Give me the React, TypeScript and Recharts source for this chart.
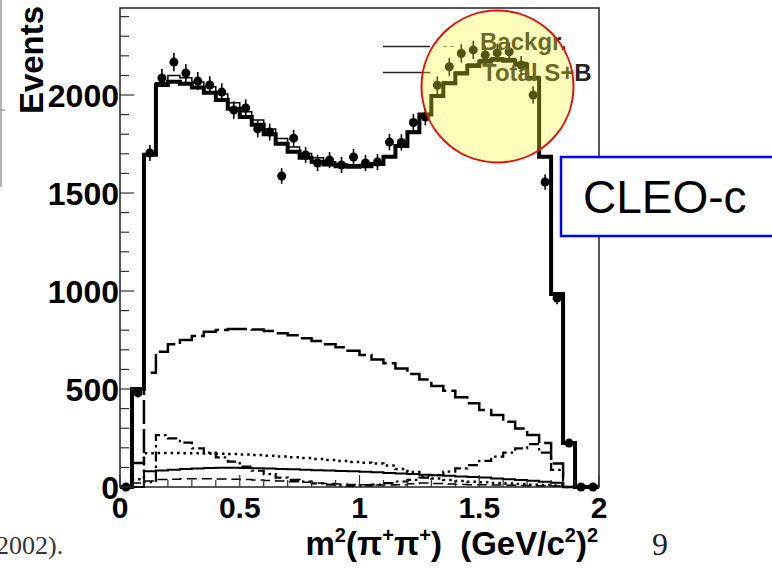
import { ComposedChart, ErrorBar, Line, ReferenceArea, Scatter, XAxis, YAxis } from "recharts";

const binEdges = [
  0, 0.05, 0.1, 0.15, 0.2, 0.25, 0.3, 0.35, 0.4, 0.45, 0.5, 0.55, 0.6, 0.65, 0.7, 0.75, 0.8, 0.85, 0.9, 0.95, 1.0,
  1.05, 1.1, 1.15, 1.2, 1.25, 1.3, 1.35, 1.4, 1.45, 1.5, 1.55, 1.6, 1.65, 1.7, 1.75, 1.8, 1.85, 1.9, 1.95, 2.0,
];
const binCenters = [
  0.025, 0.075, 0.125, 0.175, 0.225, 0.275, 0.325, 0.375, 0.425, 0.475, 0.525, 0.575, 0.625, 0.675, 0.725, 0.775,
  0.825, 0.875, 0.925, 0.975, 1.025, 1.075, 1.125, 1.175, 1.225, 1.275, 1.325, 1.375, 1.425, 1.475, 1.525, 1.575,
  1.625, 1.675, 1.725, 1.775, 1.825, 1.875, 1.925, 1.975,
];

// fitted histograms, one value per bin
const totalSB = [
  0, 500, 1695, 2051, 2068, 2058, 2038, 2012, 1975, 1930, 1888, 1848, 1800, 1752, 1710, 1680, 1660, 1645, 1636, 1634,
  1636, 1648, 1685, 1740, 1810, 1900, 1995, 2060, 2110, 2148, 2170, 2180, 2175, 2155, 2085, 1685, 985, 224, 0, 0,
];
const altFit = [
  0, 505, 1700, 2062, 2100, 2088, 2066, 2042, 2005, 1960, 1915, 1872, 1826, 1778, 1735, 1702, 1680, 1660, 1648, 1644,
  1645, 1655, 1690, 1745, 1815, 1905, 2000, 2066, 2118, 2158, 2180, 2190, 2186, 2166, 2095, 1690, 990, 226, 0, 0,
];
const backgr = [
  0, 122, 583, 690, 728, 750, 770, 792, 801, 806, 806, 804, 796, 784, 774, 759, 745, 728, 713, 695,
  673, 651, 631, 605, 577, 549, 515, 491, 458, 427, 393, 367, 333, 299, 265, 225, 120, 0, 0, 0,
];
const dashDot = [
  0, 0, 25, 265, 248, 226, 197, 175, 151, 129, 104, 83, 66, 48, 36, 27, 19, 12, 8, 6,
  8, 12, 20, 28, 36, 48, 61, 78, 95, 112, 133, 155, 175, 197, 219, 175, 87, 0, 0, 0,
];
const dotted = [
  0, 40, 172, 173, 173, 172, 172, 171, 170, 168, 166, 163, 160, 156, 152, 148, 143, 138, 133, 128,
  124, 120, 110, 92, 76, 58, 44, 36, 31, 27, 24, 21, 18, 15, 12, 10, 8, 0, 0, 0,
];
const smooth = [
  0, 0, 80, 84, 88, 92, 95, 97, 98, 98, 97, 96, 94, 92, 90, 88, 86, 84, 82, 80,
  78, 75, 72, 69, 66, 63, 60, 57, 54, 51, 48, 44, 40, 36, 32, 27, 22, 0, 0, 0,
];
const lowDashed = [
  0, 20, 30, 38, 40, 42, 42, 42, 41, 40, 38, 36, 33, 30, 27, 24, 21, 18, 15, 13,
  11, 10, 10, 12, 16, 20, 18, 15, 13, 12, 11, 10, 9, 8, 7, 6, 5, 0, 0, 0,
];

// measured events per bin
const dataEvents = [
  0, 480, 1704, 2087, 2168, 2112, 2071, 2051, 2015, 1923, 1934, 1827, 1811, 1587, 1780, 1694, 1653, 1668, 1643, 1684,
  1653, 1658, 1760, 1758, 1860, 1888, 2050, 2144, 2212, 2230, 2204, 2215, 2221, 2153, 2000, 1556, 964, 224, 0, 0,
];
const dataErrors = [
  0, 22, 41, 46, 47, 46, 46, 45, 45, 44, 44, 43, 43, 40, 42, 41, 41, 41, 41, 41,
  41, 41, 42, 42, 43, 43, 45, 46, 47, 47, 47, 47, 47, 46, 45, 39, 31, 15, 0, 0,
];

const xTicks = [
  0, 0.1, 0.2, 0.3, 0.4, 0.5, 0.6, 0.7, 0.8, 0.9, 1, 1.1, 1.2, 1.3, 1.4, 1.5, 1.6, 1.7, 1.8, 1.9, 2,
];
const yTicks = [
  0, 100, 200, 300, 400, 500, 600, 700, 800, 900, 1000, 1100, 1200, 1300, 1400, 1500, 1600, 1700, 1800, 1900, 2000,
  2100, 2200, 2300, 2400,
];

const rows = binEdges.map((x, i) => {
  const j = Math.min(i, binCenters.length - 1);
  return {
    x,
    total: totalSB[j],
    alt: altFit[j],
    backgr: backgr[j],
    dashDot: dashDot[j],
    dotted: dotted[j],
    smooth: smooth[j],
    lowDashed: lowDashed[j],
  };
});
const points = binCenters.map((x, i) => ({ x, y: dataEvents[i], err: dataErrors[i] }));

const SANS = "'Liberation Sans', Arial, Helvetica, sans-serif";
const SERIF = "'Liberation Serif', 'Times New Roman', serif";

function YTick({ x, y, payload }: any) {
  const v = payload.value;
  const major = v % 500 === 0;
  return (
    <g>
      <line x1={x} x2={x + (major ? 14 : 9)} y1={y} y2={y} stroke="#333" strokeWidth={1.2} />
      {major && (
        <text x={x - 1} y={y} dy="0.36em" textAnchor="end" fontSize={32} fontWeight="bold" fontFamily={SANS} fill="#000">
          {v}
        </text>
      )}
    </g>
  );
}

function XTick({ x, y, payload }: any) {
  const v = payload.value;
  const major = Math.abs(v * 2 - Math.round(v * 2)) < 1e-6;
  return (
    <g>
      <line x1={x} x2={x} y1={y} y2={y - (major ? 12 : 7)} stroke="#333" strokeWidth={1.2} />
      {major && (
        <text x={x} y={y + 31} textAnchor="middle" fontSize={30} fontWeight="bold" fontFamily={SANS} fill="#000">
          {v}
        </text>
      )}
    </g>
  );
}

const Dot = (p: any) => <circle cx={p.cx} cy={p.cy} r={4.5} fill="#000" />;

export default function App() {
  return (
    <div style={{ position: "absolute", left: 0, top: 0, width: 772, height: 569, background: "#fff", overflow: "hidden" }}>
      <ComposedChart width={772} height={569} data={rows} margin={{ top: 8, right: 173, bottom: 0, left: 0 }}>
        <XAxis
          dataKey="x"
          type="number"
          domain={[0, 2]}
          ticks={xTicks}
          interval={0}
          height={82}
          tickSize={0}
          tickMargin={0}
          axisLine={false}
          tickLine={false}
          tick={<XTick />}
        />
        <YAxis
          type="number"
          domain={[0, 2444]}
          ticks={yTicks}
          interval={0}
          width={120}
          tickSize={0}
          tickMargin={0}
          axisLine={false}
          tickLine={false}
          tick={<YTick />}
        />
        <ReferenceArea x1={0} x2={2} y1={0} y2={2444} fill="none" stroke="#222" strokeWidth={1.5} ifOverflow="visible" />
        <Line type="stepAfter" dataKey="lowDashed" stroke="#000" strokeWidth={1.5} strokeDasharray="10 5" dot={false} activeDot={false} isAnimationActive={false} />
        <Line type="stepAfter" dataKey="smooth" stroke="#000" strokeWidth={2} dot={false} activeDot={false} isAnimationActive={false} />
        <Line type="stepAfter" dataKey="dotted" stroke="#000" strokeWidth={2.5} strokeDasharray="2.5 4" dot={false} activeDot={false} isAnimationActive={false} />
        <Line type="stepAfter" dataKey="dashDot" stroke="#000" strokeWidth={2.2} strokeDasharray="10 4 2.5 4" dot={false} activeDot={false} isAnimationActive={false} />
        <Line type="stepAfter" dataKey="backgr" stroke="#000" strokeWidth={2.5} strokeDasharray="24 5" dot={false} activeDot={false} isAnimationActive={false} />
        <Line type="stepAfter" dataKey="alt" stroke="#000" strokeWidth={1.5} dot={false} activeDot={false} isAnimationActive={false} />
        <Line type="stepAfter" dataKey="total" stroke="#000" strokeWidth={4} dot={false} activeDot={false} isAnimationActive={false} />
        <Scatter data={points} dataKey="y" shape={Dot} isAnimationActive={false}>
          <ErrorBar dataKey="err" direction="y" width={0} stroke="#000" strokeWidth={1.6} />
        </Scatter>
      </ComposedChart>

      <svg width={772} height={569} style={{ position: "absolute", left: 0, top: 0, pointerEvents: "none" }}>
        <line x1={1} x2={1} y1={0} y2={187} stroke="#999" strokeWidth={1.5} />
        <line x1={0} x2={5} y1={110} y2={110} stroke="#999" strokeWidth={1.5} />

        <text transform="translate(43,60) rotate(-90)" textAnchor="middle" fontSize={33} fontWeight="bold" fontFamily={SANS} fill="#000">
          Events
        </text>

        <text x={598} y={555} textAnchor="end" fontSize={33} fontWeight="bold" fontFamily={SANS} fill="#000" style={{ whiteSpace: "pre" }}>
          m<tspan dy={-13} fontSize={20}>2</tspan>
          <tspan dy={13}>(π</tspan>
          <tspan dy={-13} fontSize={20}>+</tspan>
          <tspan dy={13}>π</tspan>
          <tspan dy={-13} fontSize={20}>+</tspan>
          <tspan dy={13}>{")  (GeV/c"}</tspan>
          <tspan dy={-13} fontSize={20}>2</tspan>
          <tspan dy={13}>)</tspan>
          <tspan dy={-13} fontSize={20}>2</tspan>
        </text>

        {/* legend */}
        <line x1={383} x2={430} y1={46.5} y2={46.5} stroke="#222" strokeWidth={1.4} />
        <line x1={443} x2={455} y1={46.5} y2={46.5} stroke="#777" strokeWidth={1.2} strokeDasharray="4 3" />
        <line x1={383} x2={430} y1={72.5} y2={72.5} stroke="#222" strokeWidth={1.4} />
        <text x={480} y={50} fontSize={24} fontWeight="bold" fontFamily={SANS} fill="#222">
          Backgr.
        </text>
        <text x={482} y={81} fontSize={24} fontWeight="bold" fontFamily={SANS} fill="#222">
          Total S+B
        </text>

        <circle cx={497.5} cy={86.5} r={76} fill="#ffff30" fillOpacity={0.33} stroke="#e01010" strokeWidth={2} />

        <rect x={561} y={157} width={230} height={79} fill="#fff" stroke="#0000ff" strokeWidth={2.5} />
        <text x={583} y={213} fontSize={46} fontFamily={SANS} fill="#000">
          CLEO-c
        </text>

        <text x={-4} y={554} fontSize={26} fontFamily={SERIF} fill="#333">
          2002).
        </text>
        <text x={652} y={555} fontSize={32} fontFamily={SERIF} fill="#222">
          9
        </text>
      </svg>
    </div>
  );
}
